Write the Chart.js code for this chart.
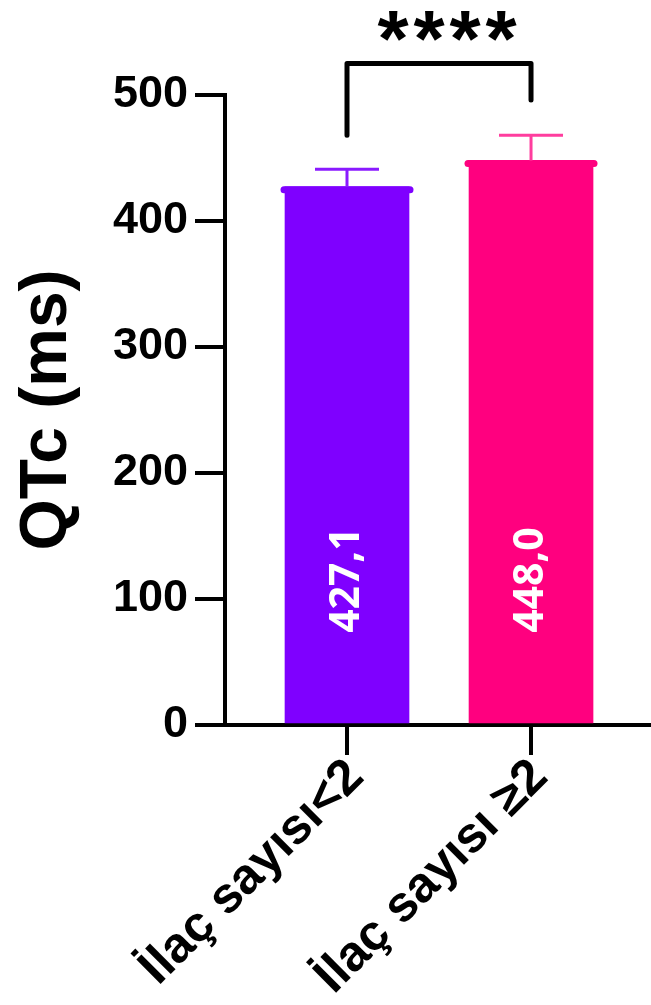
<!DOCTYPE html>
<html>
<head>
<meta charset="utf-8">
<script src="https://cdn.jsdelivr.net/npm/chart.js@4.4.1/dist/chart.umd.min.js"></script>
<style>
  body { margin: 0; background: #fff; }
</style>
</head>
<body>
<canvas id="chart" width="651" height="1005"></canvas>
<script>
// data
const categories = ['İlaç sayısı<2', 'İlaç sayısı ≥2'];
const means = [427.1, 448.0];
const errors = [14, 20];
const yTicks = [0, 100, 200, 300, 400, 500];
const significance = '****';

const barColors = ['#7f00ff', '#ff007f'];
const errColors = ['#8a1aff', '#ff3d9e'];
const FONT = "'Liberation Sans', Arial, sans-serif";

// error bars, value text, top rims, bracket + stars
const extras = {
  id: 'extras',
  afterDatasetsDraw(chart) {
    const ctx = chart.ctx;
    const y = chart.scales.y;
    const bars = chart.getDatasetMeta(0).data;
    ctx.save();
    bars.forEach((bar, i) => {
      const half = bar.width / 2;
      // slightly wider rounded rim on bar top
      ctx.strokeStyle = barColors[i];
      ctx.lineWidth = 7;
      ctx.lineCap = 'round';
      ctx.beginPath();
      ctx.moveTo(bar.x - half - 1, bar.y + 3);
      ctx.lineTo(bar.x + half + 1, bar.y + 3);
      ctx.stroke();

      // error bar (upper only)
      const top = y.getPixelForValue(means[i] + errors[i]);
      ctx.strokeStyle = errColors[i];
      ctx.lineWidth = 3;
      ctx.lineCap = 'butt';
      ctx.beginPath();
      ctx.moveTo(bar.x, bar.y);
      ctx.lineTo(bar.x, top);
      ctx.moveTo(bar.x - 32, top);
      ctx.lineTo(bar.x + 32, top);
      ctx.stroke();

      // value written inside the bar
      ctx.save();
      ctx.translate(bar.x, y.getPixelForValue(115));
      ctx.rotate(-Math.PI / 2);
      ctx.fillStyle = '#fff';
      ctx.font = "bold 41px 'Open Sans', sans-serif";
      ctx.textAlign = 'center';
      ctx.textBaseline = 'middle';
      ctx.fillText(means[i].toFixed(1).replace('.', ','), 0, 0);
      ctx.restore();
    });

    // significance bracket
    const x0 = bars[0].x, x1 = bars[1].x;
    const yTop = y.getPixelForValue(525);
    ctx.strokeStyle = '#000';
    ctx.lineWidth = 5;
    ctx.lineCap = 'round';
    ctx.lineJoin = 'round';
    ctx.beginPath();
    ctx.moveTo(x0, y.getPixelForValue(468));
    ctx.lineTo(x0, yTop);
    ctx.lineTo(x1, yTop);
    ctx.lineTo(x1, y.getPixelForValue(496));
    ctx.stroke();

    ctx.fillStyle = '#000';
    ctx.font = 'bold 80px ' + FONT;
    ctx.textAlign = 'center';
    ctx.textBaseline = 'alphabetic';
    const cx = (x0 + x1) / 2 + 8;
    const step = 36;
    for (let k = 0; k < significance.length; k++) {
      ctx.fillText(significance[k], cx + (k - (significance.length - 1) / 2) * step, 66);
    }
    ctx.restore();
  }
};

new Chart(document.getElementById('chart'), {
  type: 'bar',
  data: {
    datasets: [{
      data: categories.map((c, i) => ({ x: i, y: means[i] })),
      backgroundColor: barColors,
      borderWidth: 0,
      barThickness: 124
    }]
  },
  options: {
    responsive: false,
    animation: false,
    layout: { padding: { top: 95, left: 0, right: 0, bottom: 0 } },
    plugins: { legend: { display: false }, tooltip: { enabled: false } },
    scales: {
      x: {
        type: 'linear',
        offset: false,
        min: -0.663,
        max: 1.652,
        afterBuildTicks: s => { s.ticks = categories.map((c, i) => ({ value: i })); },
        afterFit: s => { s.height = 280; s.paddingRight = 0; },
        ticks: {
          callback: v => categories[v],
          autoSkip: false,
          minRotation: 45,
          maxRotation: 45,
          color: '#000',
          padding: -7,
          labelOffset: 9,
          font: { family: FONT, size: 50, weight: 'bold' }
        },
        grid: { offset: false, drawOnChartArea: false, tickLength: 30, color: '#000', lineWidth: 4 },
        border: { color: '#000', width: 4 }
      },
      y: {
        min: 0,
        max: 500,
        afterBuildTicks: s => { s.ticks = yTicks.map(v => ({ value: v })); },
        afterFit: s => { s.width = 225; },
        ticks: {
          color: '#000',
          padding: 7,
          font: { family: FONT, size: 45, weight: 'bold' }
        },
        grid: { drawOnChartArea: false, tickLength: 30, color: '#000', lineWidth: 4 },
        border: { color: '#000', width: 4 },
        title: {
          display: true,
          text: 'QTc (ms)',
          color: '#000',
          padding: { top: 8, bottom: 0 },
          font: { family: FONT, size: 66, weight: 'bold' }
        }
      }
    }
  },
  plugins: [extras]
});
</script>
</body>
</html>
